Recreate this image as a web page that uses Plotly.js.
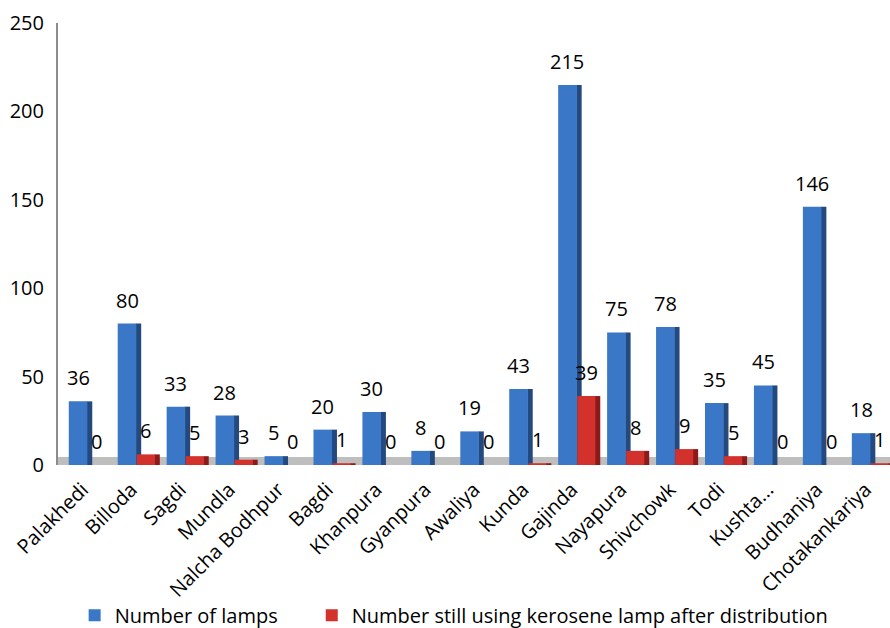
<!DOCTYPE html>
<html>
<head>
<meta charset="utf-8">
<script src="https://cdn.plot.ly/plotly-3.0.1.min.js"></script>
<style>html,body{margin:0;padding:0;background:#fff;}#chart{width:890px;height:628px;}</style>
</head>
<body>
<div id="chart"></div>
<script>
const categories = ["Palakhedi","Billoda","Sagdi","Mundla","Nalcha Bodhpur","Bagdi","Khanpura","Gyanpura","Awaliya","Kunda","Gajinda","Nayapura","Shivchowk","Todi","Kushta...","Budhaniya","Chotakankariya"];
const lamps = [36,80,33,28,5,20,30,8,19,43,215,75,78,35,45,146,18];
const kerosene = [0,6,5,3,0,1,0,0,0,1,39,8,9,5,0,0,1];
const seriesNames = ["Number of lamps","Number still using kerosene lamp after distribution"];
const yTicks = [0,50,100,150,200,250];

const idx = categories.map((_, i) => i);
const FONT = "Open Sans, Liberation Sans, Arial, sans-serif";

const blueFront = "#3A77C6", blueSide = "#23497E";
const redFront = "#D2312C", redSide = "#8A1B1A";

const traces = [
  {type:"bar", x:idx, y:lamps, offset:0.09, width:0.11, marker:{color:blueSide}, showlegend:false, hoverinfo:"skip"},
  {type:"bar", x:idx, y:lamps, offset:-0.28, width:0.38, marker:{color:blueFront}, name:seriesNames[0], legend:"legend"},
  {type:"bar", x:idx, y:kerosene, offset:0.47, width:0.11, marker:{color:redSide}, showlegend:false, hoverinfo:"skip"},
  {type:"bar", x:idx, y:kerosene, offset:0.11, width:0.37, marker:{color:redFront}, name:seriesNames[1], legend:"legend2"}
];

const annotations = [];
idx.forEach(i => {
  annotations.push({x:i-0.09, y:lamps[i], xref:"x", yref:"y", text:String(lamps[i]), showarrow:false, yanchor:"bottom", xanchor:"center", yshift:8, font:{family:FONT, size:20, color:"#000"}});
  annotations.push({x:i+0.295, y:kerosene[i], xref:"x", yref:"y", text:String(kerosene[i]), showarrow:false, yanchor:"bottom", xanchor:"center", yshift:8, font:{family:FONT, size:20, color:"#000"}});
});

const legendFont = {family:FONT, size:20, color:"#000"};

const layout = {
  width:890, height:628,
  margin:{l:58, r:0, t:23, b:163, autoexpand:false},
  paper_bgcolor:"#fff", plot_bgcolor:"#fff",
  barmode:"overlay",
  font:{family:FONT, color:"#000"},
  xaxis:{range:[-0.5,16.5], tickmode:"array", tickvals:idx, ticktext:categories, tickangle:-45, automargin:false,
         tickfont:{family:FONT, size:20, color:"#000"}, showgrid:false, zeroline:false, showline:false, ticks:"", ticklabelstandoff:8, fixedrange:true},
  yaxis:{range:[0,250], tickmode:"array", tickvals:yTicks, showgrid:false, zeroline:false, showline:true, automargin:false,
         linecolor:"#8C8C8C", linewidth:2, ticks:"", tickfont:{family:FONT, size:20, color:"#000"}, ticklabelstandoff:8},
  legend:{orientation:"h", x:0.02, xanchor:"left", y:-0.34, yanchor:"middle", font:legendFont, bgcolor:"rgba(0,0,0,0)"},
  legend2:{orientation:"h", x:0.305, xanchor:"left", y:-0.34, yanchor:"middle", font:legendFont, bgcolor:"rgba(0,0,0,0)"},
  shapes:[
    {type:"rect", xref:"paper", x0:0, x1:1, yref:"y", ysizemode:"pixel", yanchor:0, y0:0, y1:8, fillcolor:"#BEBEBE", line:{width:0}, layer:"below"},
    {type:"rect", xref:"paper", x0:0, x1:1, yref:"y", ysizemode:"pixel", yanchor:0, y0:-4, y1:0, fillcolor:"#8E8E8E", line:{width:0}, layer:"below"}
  ],
  annotations:annotations,
  showlegend:true
};

Plotly.newPlot("chart", traces, layout, {displayModeBar:false, staticPlot:true});
</script>
</body>
</html>
